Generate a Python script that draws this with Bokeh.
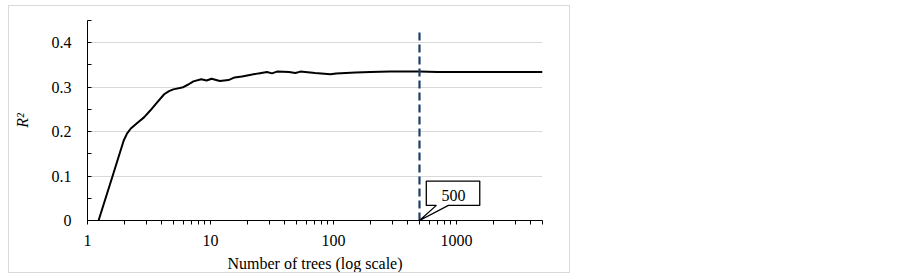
from bokeh.plotting import figure
from bokeh.models import FixedTicker, Range1d, Label
from bokeh.embed import file_html
from bokeh.resources import INLINE

# ---- data ----
trees = [1.23, 1.6, 1.97, 2.1, 2.25, 2.55, 2.88, 3.25, 3.61, 4.2, 4.6, 4.98, 6.0, 6.6, 7.26,
         8.4, 9.3, 10.2, 11.9, 14, 15.7, 18, 20.4, 24.6, 28.8, 31.6, 34.7, 43.5, 49,
         53.7, 70.8, 94.5, 105, 151, 200, 288, 500, 700, 1000, 2000, 3000, 5000]
r2 = [0.0, 0.1, 0.18, 0.196, 0.207, 0.22, 0.232, 0.248, 0.263, 0.284, 0.291, 0.295,
      0.30, 0.306, 0.313, 0.318, 0.315, 0.319, 0.314, 0.316, 0.322, 0.324, 0.327,
      0.331, 0.334, 0.331, 0.335, 0.334, 0.332, 0.335, 0.332, 0.329, 0.331, 0.333,
      0.334, 0.335, 0.335, 0.334, 0.334, 0.334, 0.334, 0.334]
chosen_trees = 500
x_ticks = [1, 10, 100, 1000]
x_tick_labels = ["1", "10", "100", "1000"]
x_minor = [2, 3, 4, 5, 6, 7, 8, 9, 20, 30, 40, 50, 60, 70, 80, 90,
           200, 300, 400, 500, 600, 700, 800, 900, 2000, 3000, 4000, 5000]
y_ticks = [0, 0.1, 0.2, 0.3, 0.4]
y_tick_labels = ["0", "0.1", "0.2", "0.3", "0.4"]
y_minor = [0.05, 0.15, 0.25, 0.35, 0.45]

FONT = "'Liberation Serif', serif"

p = figure(width=562, height=268, x_axis_type="log", output_backend="svg",
           toolbar_location=None, x_range=Range1d(1, 5000), y_range=Range1d(0, 0.45),
           min_border_left=78, min_border_right=29, min_border_top=14, min_border_bottom=54)
p.styles = {"border": "1px solid #D9D9D9", "margin-left": "8px", "margin-top": "5px"}
p.outline_line_color = None
p.background_fill_color = "white"

# grid
p.xgrid.visible = False
p.ygrid.ticker = FixedTicker(ticks=[0.1, 0.2, 0.3, 0.4])
p.ygrid.grid_line_color = "#D9D9D9"
p.ygrid.grid_line_width = 1

# axes
xa = p.xaxis[0]
xa.ticker = FixedTicker(ticks=x_ticks, minor_ticks=x_minor)
xa.major_label_overrides = {t: l for t, l in zip(x_ticks, x_tick_labels)}
xa.axis_label = "Number of trees (log scale)"
ya = p.yaxis[0]
ya.ticker = FixedTicker(ticks=y_ticks, minor_ticks=y_minor)
ya.major_label_overrides = {t: l for t, l in zip(y_ticks, y_tick_labels)}
ya.axis_label = "R²"
for ax in (xa, ya):
    ax.axis_line_color = "black"
    ax.major_tick_line_color = "black"
    ax.minor_tick_line_color = "black"
    ax.major_label_text_font = FONT
    ax.major_label_text_font_size = "16px"
    ax.major_label_text_color = "black"
    ax.axis_label_text_font = FONT
    ax.axis_label_text_font_size = "16px"
    ax.axis_label_text_color = "black"
xa.major_tick_in = 0
xa.major_tick_out = 4
xa.minor_tick_in = 0
xa.minor_tick_out = 4
xa.major_label_standoff = 10
xa.axis_label_standoff = 6
xa.axis_label_text_font_style = "normal"

ya.axis_label_text_font_style = "italic"
ya.major_tick_in = 4
ya.major_tick_out = 0
ya.minor_tick_in = 4
ya.minor_tick_out = 0
ya.major_label_standoff = 16
ya.axis_label_standoff = 18

# curve
p.line(trees, r2, line_color="black", line_width=2)

# dashed marker line at chosen number of trees
p.segment(x0=[chosen_trees], y0=[0], x1=[chosen_trees], y1=[0.432],
          line_color="#1F3E64", line_width=2.2, line_dash="8 4")

# callout box with pointer
c = chosen_trees
bx0, bx1 = c * 1.136, c * 3.09
by0, by1 = 0.034, 0.0886
p.patch([bx0, c * 1.372, c, c * 1.718, bx1, bx1, bx0],
        [by0, by0, 0, by0, by0, by1, by1],
        fill_color="white", line_color="black", line_width=1.3)
p.add_layout(Label(x=c * 1.89, y=(by0 + by1) / 2 - 0.004, text=str(chosen_trees),
                   text_font=FONT, text_font_size="16px", text_align="center",
                   text_baseline="middle", text_color="black"))

open("out.html", "w").write(file_html(p, INLINE))
